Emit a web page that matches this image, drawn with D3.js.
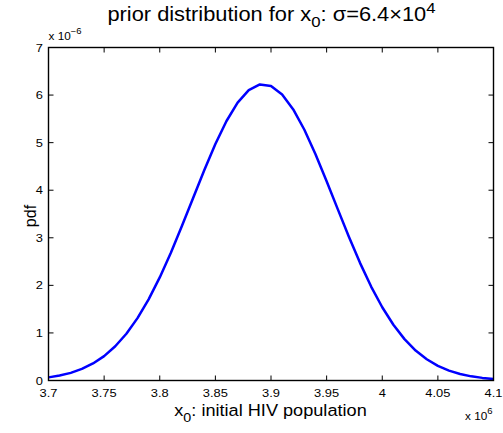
<!DOCTYPE html>
<html><head><meta charset="utf-8">
<script src="https://cdn.jsdelivr.net/npm/d3@7/dist/d3.min.js"></script>
<style>body{margin:0;background:#fff}svg{display:block}text{font-family:"Liberation Sans",Arial,sans-serif;fill:#000}</style>
</head><body>
<script>
// x values in units of 1e6, pdf in units of 1e-6
const xValues = [3.70,3.71,3.72,3.73,3.74,3.75,3.76,3.77,3.78,3.79,3.80,3.81,3.82,3.83,3.84,3.85,3.86,3.87,3.88,3.89,3.90,3.91,3.92,3.93,3.94,3.95,3.96,3.97,3.98,3.99,4.00,4.01,4.02,4.03,4.04,4.05,4.06,4.07,4.08,4.09,4.10];
const pdfValues = [0.066,0.104,0.161,0.243,0.358,0.513,0.719,0.983,1.311,1.706,2.167,2.687,3.251,3.838,4.421,4.971,5.455,5.840,6.103,6.223,6.193,6.014,5.699,5.271,4.757,4.190,3.602,3.021,2.473,1.975,1.540,1.172,0.870,0.630,0.446,0.307,0.207,0.136,0.087,0.055,0.033];
const xTicks = [3.7,3.75,3.8,3.85,3.9,3.95,4,4.05,4.1];
const xTickLabels = ["3.7","3.75","3.8","3.85","3.9","3.95","4","4.05","4.1"];
const yTicks = [0,1,2,3,4,5,6,7];

const W=503,H=433;
const L=48.5,R=493.5,T=47.5,B=380.5;
const SX=1.12; // horizontal stretch of the text glyphs
const svg=d3.select("body").append("svg").attr("width",W).attr("height",H);
const x=d3.scaleLinear().domain([3.7,4.1]).range([L,R]);
const y=d3.scaleLinear().domain([0,7]).range([B,T]);

function stext(px,py,anchor,size,sx){
  const g=svg.append("g").attr("transform",`translate(${px},${py}) scale(${sx||SX},1)`);
  return g.append("text").attr("text-anchor",anchor).attr("font-size",size);
}

// ticks inward on all sides
const tl=5;
const g=svg.append("g").attr("stroke","#000").attr("stroke-width",1);
xTicks.forEach(t=>{
  g.append("line").attr("x1",x(t)).attr("x2",x(t)).attr("y1",B).attr("y2",B-tl);
  g.append("line").attr("x1",x(t)).attr("x2",x(t)).attr("y1",T).attr("y2",T+tl);
});
yTicks.forEach(t=>{
  g.append("line").attr("y1",y(t)).attr("y2",y(t)).attr("x1",L).attr("x2",L+tl);
  g.append("line").attr("y1",y(t)).attr("y2",y(t)).attr("x1",R).attr("x2",R-tl);
});

// curve
const line=d3.line().x((d,i)=>x(xValues[i])).y(d=>y(d));
svg.append("path").datum(pdfValues).attr("d",line).attr("fill","none").attr("stroke","#0000ff").attr("stroke-width",2.5).attr("stroke-linejoin","round");

// box
svg.append("rect").attr("x",L).attr("y",T).attr("width",R-L).attr("height",B-T).attr("fill","none").attr("stroke","#000").attr("stroke-width",1.4);

// tick labels
xTicks.forEach((t,i)=>{
  stext(x(t),396.5,"middle",11.5).text(xTickLabels[i]);
});
yTicks.forEach(t=>{
  stext(L-5.5,y(t)+4,"end",11.5).text(t);
});

// exponent labels
const e1=stext(L,39.5,"start",10.5);
e1.append("tspan").text("x 10");
e1.append("tspan").attr("dy",-6).attr("font-size",8.5).text("−6");
const e2=stext(465,420,"start",10.5);
e2.append("tspan").text("x 10");
e2.append("tspan").attr("dy",-6).attr("font-size",8.5).text("6");

// title
const tt=stext(271.5,20.7,"middle",19.5,1.12);
tt.append("tspan").text("prior distribution for x");
tt.append("tspan").attr("dy",6).attr("font-size",15).text("0");
tt.append("tspan").attr("dy",-6).text(": σ=6.4×10");
tt.append("tspan").attr("dy",-8).attr("font-size",15).text("4");

// x label
const xl=stext(270.5,416,"middle",16.5,1.1);
xl.append("tspan").text("x");
xl.append("tspan").attr("dy",6).attr("font-size",13).text("0");
xl.append("tspan").attr("dy",-6).text(": initial HIV population");

// y label
svg.append("text").attr("transform","translate(36,216) rotate(-90)").attr("text-anchor","middle").attr("font-size",16).text("pdf");
</script>
</body></html>
